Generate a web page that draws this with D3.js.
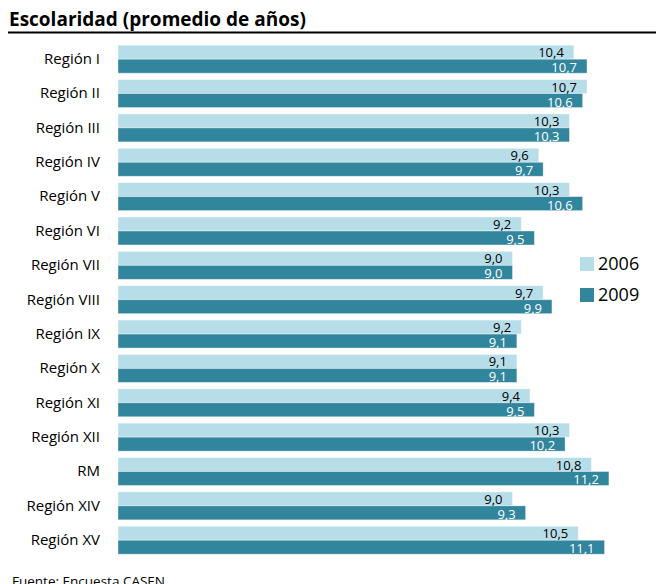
<!DOCTYPE html>
<head>
    <meta charset="utf-8">
    <script src="https://d3js.org/d3.v7.min.js"></script>
    <style>
        body { margin: 0; background: #fff; }
        text { font-family: "Open Sans", Lato, sans-serif; }
    </style>
</head>
<body>
    <script>
        // data
        const regions = ["Región I", "Región II", "Región III", "Región IV", "Región V",
            "Región VI", "Región VII", "Región VIII", "Región IX", "Región X",
            "Región XI", "Región XII", "RM", "Región XIV", "Región XV"];
        const years = ["2006", "2009"];
        const values2006 = [10.4, 10.7, 10.3, 9.6, 10.3, 9.2, 9.0, 9.7, 9.2, 9.1, 9.4, 10.3, 10.8, 9.0, 10.5];
        const values2009 = [10.7, 10.6, 10.3, 9.7, 10.6, 9.5, 9.0, 9.9, 9.1, 9.1, 9.5, 10.2, 11.2, 9.3, 11.1];

        const colors = { "2006": "#b7dee8", "2009": "#31859c" };
        const labelColors = { "2006": "#000", "2009": "#fff" };

        const rows = regions.map((r, i) => ({ region: r, "2006": values2006[i], "2009": values2009[i] }));

        const svg = d3.select("body")
            .append("svg")
            .attr("width", 656)
            .attr("height", 584);

        // title + rule under it
        svg.append("text")
            .attr("x", 9)
            .attr("y", 26)
            .attr("font-size", 19)
            .attr("font-weight", "bold")
            .attr("fill", "#000")
            .text("Escolaridad (promedio de años)");
        svg.append("line")
            .attr("x1", 8).attr("x2", 656)
            .attr("y1", 32.5).attr("y2", 32.5)
            .attr("stroke", "#000")
            .attr("stroke-width", 2);

        // scales
        const x = d3.scaleLinear().domain([0, 12]).range([118, 644]);
        const y = d3.scaleBand()
            .domain(regions)
            .range([42, 42 + 15 * 34.36])
            .paddingInner(0.185)
            .paddingOuter(0.0925);
        const ySub = d3.scaleBand()
            .domain(years)
            .range([0, y.bandwidth()]);

        // category axis
        const yAxis = svg.append("g")
            .attr("transform", `translate(${x(0)},0)`)
            .call(d3.axisLeft(y).tickSize(0).tickPadding(18));
        yAxis.select(".domain").remove();
        yAxis.selectAll("text")
            .attr("font-family", "'Open Sans', Lato, sans-serif")
            .attr("font-size", 15)
            .attr("fill", "#000");

        // bars
        const groups = svg.selectAll(".grp")
            .data(rows)
            .join("g")
            .attr("class", "grp")
            .attr("transform", d => `translate(0,${y(d.region)})`);

        groups.selectAll("rect")
            .data(d => years.map(k => ({ key: k, value: d[k] })))
            .join("rect")
            .attr("x", x(0))
            .attr("y", d => ySub(d.key))
            .attr("width", d => x(d.value) - x(0))
            .attr("height", ySub.bandwidth())
            .attr("fill", d => colors[d.key])
            .attr("stroke", "#fff")
            .attr("stroke-opacity", 0.5)
            .attr("stroke-width", 0.8);

        // value labels inside the bar ends
        const fmt = v => d3.format(".1f")(v).replace(".", ",");
        groups.selectAll(".val")
            .data(d => years.map(k => ({ key: k, value: d[k] })))
            .join("text")
            .attr("class", "val")
            .attr("x", d => x(d.value) - 10)
            .attr("y", d => ySub(d.key) + ySub.bandwidth() - (d.key === "2006" ? 2 : 1))
            .attr("text-anchor", "end")
            .attr("font-size", 13)
            .attr("fill", d => labelColors[d.key])
            .text(d => fmt(d.value));

        // legend
        const legend = svg.append("g")
            .attr("transform", "translate(580,257)");
        years.forEach((k, i) => {
            legend.append("rect")
                .attr("x", 0)
                .attr("y", i * 31)
                .attr("width", 14)
                .attr("height", 14)
                .attr("fill", colors[k]);
            legend.append("text")
                .attr("x", 18)
                .attr("y", i * 31 + 13)
                .attr("font-size", 18)
                .attr("fill", "#000")
                .text(k);
        });

        // source
        svg.append("text")
            .attr("x", 12)
            .attr("y", 586)
            .attr("font-size", 13.5)
            .attr("fill", "#000")
            .text("Fuente: Encuesta CASEN");
    </script>
</body>
